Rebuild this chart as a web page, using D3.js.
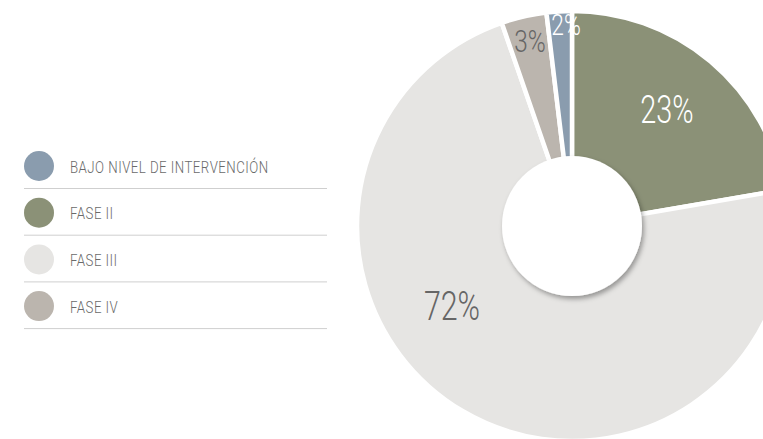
<!DOCTYPE html>
<html>
<head>
<meta charset="utf-8">
<script src="https://cdn.jsdelivr.net/npm/d3@7"></script>
<style>
  body { margin: 0; background: #fff; overflow: hidden; }
  text { font-family: Roboto, "Noto Sans", sans-serif; font-weight: 300; }
</style>
</head>
<body>
<div id="chart"></div>
<script>
// chart data
var categories = ["BAJO NIVEL DE INTERVENCIÓN", "FASE II", "FASE III", "FASE IV"];
var values = [1.9, 22.3, 72.4, 3.4];
var pctLabels = ["2%", "23%", "72%", "3%"];
var colors = ["#8a9cae", "#8b9177", "#e6e5e3", "#bbb5ae"];

var svgWidth = 763;
var svgHeight = 439;

var svg = d3.select("#chart")
  .append("svg")
  .attr("width", svgWidth)
  .attr("height", svgHeight);

// drop shadow for the hole
var defs = svg.append("defs");
var filter = defs.append("filter")
  .attr("id", "holeShadow")
  .attr("x", "-30%").attr("y", "-30%")
  .attr("width", "160%").attr("height", "160%");
filter.append("feDropShadow")
  .attr("dx", 2)
  .attr("dy", 3)
  .attr("stdDeviation", 2.5)
  .attr("flood-color", "#000")
  .attr("flood-opacity", 0.35);

var cx = 572, cy = 226;
var outerR = 215, innerR = 70;

// pie order: green, gray, taupe, blue going clockwise from 12 o'clock
var order = [1, 2, 3, 0];
var pie = d3.pie()
  .sort(null)
  .value(d => values[d]);

var arc = d3.arc()
  .innerRadius(0)
  .outerRadius(outerR);

var pieGroup = svg.append("g")
  .attr("transform", `translate(${cx}, ${cy})`);

var arcs = pie(order);

pieGroup.selectAll("path")
  .data(arcs)
  .enter()
  .append("path")
  .attr("d", arc)
  .attr("fill", d => colors[d.data])
  .attr("stroke", "#fff")
  .attr("stroke-width", 4.5)
  .attr("stroke-linejoin", "round");

// white hole with shadow
pieGroup.append("circle")
  .attr("r", innerR)
  .attr("fill", "#fff")
  .attr("filter", "url(#holeShadow)");

// percentage labels
var labelPos = {
  0: { x: 566, y: 35, size: 30, fill: "#fff" },
  1: { x: 667, y: 123, size: 38, fill: "#fff" },
  2: { x: 452, y: 320, size: 40, fill: "#666" },
  3: { x: 530, y: 52, size: 32, fill: "#666" }
};

svg.selectAll("text.pct")
  .data(order)
  .enter()
  .append("text")
  .attr("class", "pct")
  .attr("text-anchor", "middle")
  .attr("transform", d => `translate(${labelPos[d].x}, ${labelPos[d].y}) scale(0.76, 1)`)
  .attr("font-size", d => labelPos[d].size)
  .attr("fill", d => labelPos[d].fill)
  .text(d => pctLabels[d]);

// legend
var legend = svg.append("g")
  .attr("transform", "translate(24, 166)");

var rowH = 46.7;

var rows = legend.selectAll("g.row")
  .data(categories)
  .enter()
  .append("g")
  .attr("class", "row")
  .attr("transform", (d, i) => `translate(0, ${i * rowH})`);

rows.append("circle")
  .attr("cx", 15)
  .attr("cy", 0)
  .attr("r", 15)
  .attr("fill", (d, i) => colors[i]);

rows.append("text")
  .attr("transform", "translate(46, 6.5) scale(0.78, 1)")
  .attr("font-size", 17)
  .attr("letter-spacing", 0.6)
  .attr("fill", "#6a6a6a")
  .text(d => d);

rows.append("line")
  .attr("x1", 0)
  .attr("x2", 303)
  .attr("y1", 22.5)
  .attr("y2", 22.5)
  .attr("stroke", "#cfcfcf")
  .attr("stroke-width", 1);
</script>
</body>
</html>
